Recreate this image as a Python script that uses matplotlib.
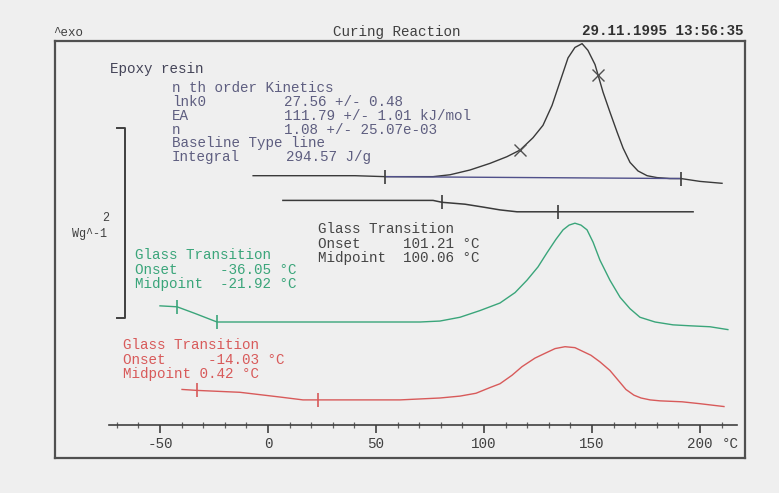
import matplotlib
matplotlib.use("Agg")
import matplotlib.pyplot as plt
import numpy as np

plt.rcParams['axes.unicode_minus'] = False

# ---------------- data (temperature in °C, heat flow in W/g incl. display offset) -------------
cure_T = [-6.9, 14.8, 40.3, 54.2, 70.4, 76.4, 84.3, 93.5, 102.8, 110.6, 116.7, 122.7, 127.3,
          131.5, 135.2, 138.9, 142.1, 145.4, 148.1, 151.4, 152.8, 155.1, 158.3, 161.6, 164.4,
          167.6, 171.3, 175.5, 180.1, 186.1, 191.2, 200.0, 210.2]
cure_hf = [3.34, 3.34, 3.34, 3.33, 3.33, 3.33, 3.35, 3.40, 3.47, 3.54, 3.61, 3.74, 3.87,
           4.08, 4.33, 4.58, 4.69, 4.73, 4.66, 4.51, 4.40, 4.22, 4.01, 3.80, 3.63,
           3.48, 3.39, 3.34, 3.32, 3.31, 3.31, 3.28, 3.26]
cure_limits = [54.2, 191.2]
cure_cross_T = [116.7, 152.8]

tg2_T = [6.9, 76.4, 80.6, 91.2, 99.5, 107.4, 115.3, 134.3, 166.2, 196.8]
tg2_hf = [3.08, 3.08, 3.06, 3.04, 3.01, 2.98, 2.96, 2.96, 2.96, 2.96]
tg2_limits = [80.6, 134.3]

green_T = [-50.0, -42.1, -33.8, -23.6, 14.8, 70.4, 79.6, 88.9, 98.1, 107.4, 114.4, 119.9,
           125.0, 129.2, 133.3, 136.6, 139.4, 142.1, 144.9, 147.7, 150.5, 153.7, 158.3,
           163.0, 167.6, 172.2, 179.2, 187.5, 195.4, 204.6, 212.9]
green_hf = [1.97, 1.96, 1.89, 1.80, 1.80, 1.80, 1.81, 1.85, 1.92, 2.00, 2.11, 2.24,
            2.38, 2.53, 2.67, 2.77, 2.82, 2.84, 2.82, 2.77, 2.64, 2.45, 2.24,
            2.06, 1.94, 1.85, 1.80, 1.77, 1.76, 1.75, 1.72]
green_limits = [-42.1, -23.6]

red_T = [-39.8, -32.9, -13.0, 5.6, 16.2, 23.1, 61.1, 79.6, 88.9, 96.3, 102.8, 107.4, 113.0,
         117.6, 123.6, 128.2, 132.9, 137.5, 142.1, 145.8, 149.5, 153.7, 158.3, 162.0, 165.7,
         169.4, 172.7, 176.9, 181.5, 191.7, 200.0, 211.1]
red_hf = [1.09, 1.08, 1.06, 1.01, 0.98, 0.98, 0.98, 1.00, 1.02, 1.05, 1.11, 1.15, 1.24,
          1.33, 1.42, 1.47, 1.52, 1.54, 1.53, 1.49, 1.45, 1.38, 1.29, 1.19, 1.09,
          1.03, 1.00, 0.98, 0.97, 0.96, 0.94, 0.91]
red_limits = [-32.9, 23.1]

xticks_major = [-50, 0, 50, 100, 150, 200]
scale_bar = 2.0  # W/g

kin_labels = ["lnk0", "EA", "n"]
kin_values = ["27.56 +/- 0.48", "111.79 +/- 1.01 kJ/mol", "1.08 +/- 25.07e-03"]
integral = "294.57 J/g"

gt_black = (101.21, 100.06)
gt_green = (-36.05, -21.92)
gt_red = (-14.03, 0.42)

# ---------------- layout helpers -------------
W, H = 779, 493
PX_PER_C = 2.16
X0_PX = 268.0
PX_PER_WG = 95.0

def T_of_px(x):
    return (x - X0_PX) / PX_PER_C

def fx(x):
    return x / W

def fy(y):
    return 1 - y / H

BG = '#efefef'
BLACK = '#3a3a3a'
BLUE = '#50508a'
GREEN = '#3aa57a'
RED = '#d85a5a'
TXT = '#5e5e80'
MONO = 'Liberation Mono'
FS = 10.3

fig = plt.figure(figsize=(W / 100, H / 100), dpi=100)
fig.patch.set_facecolor(BG)

# main drawing axes (whole figure)
ax = fig.add_axes([0, 0, 1, 1])
ax.set_xlim(T_of_px(0), T_of_px(W))
ax.set_ylim(0, H / PX_PER_WG)
ax.axis('off')
ax.patch.set_alpha(0)

# frame axes
axf = fig.add_axes([fx(55), fy(458), (745 - 55) / W, (458 - 41) / H])
axf.set_xticks([]); axf.set_yticks([])
axf.patch.set_alpha(0)
for s in axf.spines.values():
    s.set_color('#505050'); s.set_linewidth(1.6)

# temperature axis
axx = fig.add_axes([fx(109), fy(425), (737 - 109) / W, 0.0001])
axx.set_xlim(T_of_px(109), T_of_px(737))
axx.patch.set_alpha(0)
for k in ['left', 'right', 'top']:
    axx.spines[k].set_visible(False)
axx.spines['bottom'].set_color('#404040'); axx.spines['bottom'].set_linewidth(1.2)
axx.set_yticks([])
axx.set_xticks(xticks_major)
axx.set_xticks(np.arange(-70, 220, 10), minor=True)
axx.set_xticklabels([str(v) for v in xticks_major], fontfamily=MONO, fontsize=FS, color='#404040')
axx.tick_params(axis='x', which='major', direction='out', length=6, width=1.2, color='#404040', pad=3)
axx.tick_params(axis='x', which='minor', direction='inout', length=5, width=0.9, color='#606060')
fig.text(fx(722), fy(444), "°C", fontfamily=MONO, fontsize=FS, color='#404040', va='center', ha='left')

# curves
ax.plot(cure_T, cure_hf, color=BLACK, lw=1.0)
bl = np.interp(cure_limits, cure_T, cure_hf)
ax.plot(cure_limits, bl, color=BLUE, lw=1.0)
ax.plot(cure_limits, bl, ls='none', marker='|', ms=10, mew=1.2, color=BLACK)
ax.plot(cure_cross_T, np.interp(cure_cross_T, cure_T, cure_hf), ls='none', marker='x',
        ms=9, mew=1.0, color='#505050')

ax.plot(tg2_T, tg2_hf, color=BLACK, lw=1.1)
ax.plot(tg2_limits, np.interp(tg2_limits, tg2_T, tg2_hf), ls='none', marker='|', ms=10,
        mew=1.2, color=BLACK)

ax.plot(green_T, green_hf, color=GREEN, lw=1.0)
ax.plot(green_limits, np.interp(green_limits, green_T, green_hf), ls='none', marker='|',
        ms=10, mew=1.2, color=GREEN)

ax.plot(red_T, red_hf, color=RED, lw=1.0)
ax.plot(red_limits, np.interp(red_limits, red_T, red_hf), ls='none', marker='|', ms=10,
        mew=1.2, color=RED)

# scale bar bracket
yb0 = (H - 318) / PX_PER_WG
ax.plot([T_of_px(117), T_of_px(125), T_of_px(125), T_of_px(117)],
        [yb0 + scale_bar, yb0 + scale_bar, yb0, yb0], color='#404040', lw=1.4)
fig.text(fx(72), fy(234), "Wg^-1", fontfamily=MONO, fontsize=8.5, color='#404040', va='center')
fig.text(fx(102), fy(218), f"{scale_bar:g}", fontfamily=MONO, fontsize=8.5, color='#404040', va='center')

# header
fig.text(fx(53), fy(33), "^exo", fontfamily=MONO, fontsize=9, color='#404040', va='center')
fig.text(fx(397), fy(32), "Curing Reaction", fontfamily=MONO, fontsize=FS, color='#404040',
         va='center', ha='center')
fig.text(fx(743), fy(31), "29.11.1995 13:56:35", fontfamily=MONO, fontsize=FS, color='#303030',
         va='center', ha='right', fontweight='bold')

# kinetics block
fig.text(fx(110), fy(69), "Epoxy resin", fontfamily=MONO, fontsize=FS, color='#444458', va='center')
fig.text(fx(172), fy(88), "n th order Kinetics", fontfamily=MONO, fontsize=FS, color=TXT, va='center')
for i, (lab, val) in enumerate(zip(kin_labels, kin_values)):
    y = 102 + 14 * i
    fig.text(fx(172), fy(y), lab, fontfamily=MONO, fontsize=FS, color=TXT, va='center')
    fig.text(fx(284), fy(y), val, fontfamily=MONO, fontsize=FS, color=TXT, va='center')
fig.text(fx(172), fy(143), "Baseline Type line", fontfamily=MONO, fontsize=FS, color=TXT, va='center')
fig.text(fx(172), fy(157), "Integral", fontfamily=MONO, fontsize=FS, color=TXT, va='center')
fig.text(fx(286), fy(157), integral, fontfamily=MONO, fontsize=FS, color=TXT, va='center')

def gt_block(x, y, vals, color, mid_fmt="{:>7.2f}"):
    fig.text(fx(x), fy(y), "Glass Transition", fontfamily=MONO, fontsize=FS, color=color, va='center')
    fig.text(fx(x), fy(y + 14.5), f"Onset    {vals[0]:>7.2f} °C", fontfamily=MONO, fontsize=FS,
             color=color, va='center')
    fig.text(fx(x), fy(y + 29), "Midpoint " + mid_fmt.format(vals[1]) + " °C", fontfamily=MONO,
             fontsize=FS, color=color, va='center')

gt_block(318, 229, gt_black, '#454545')
gt_block(135, 255, gt_green, GREEN)
gt_block(123, 345, gt_red, RED, mid_fmt="{:.2f}")

fig.savefig("out.png", dpi=100, facecolor=BG)
